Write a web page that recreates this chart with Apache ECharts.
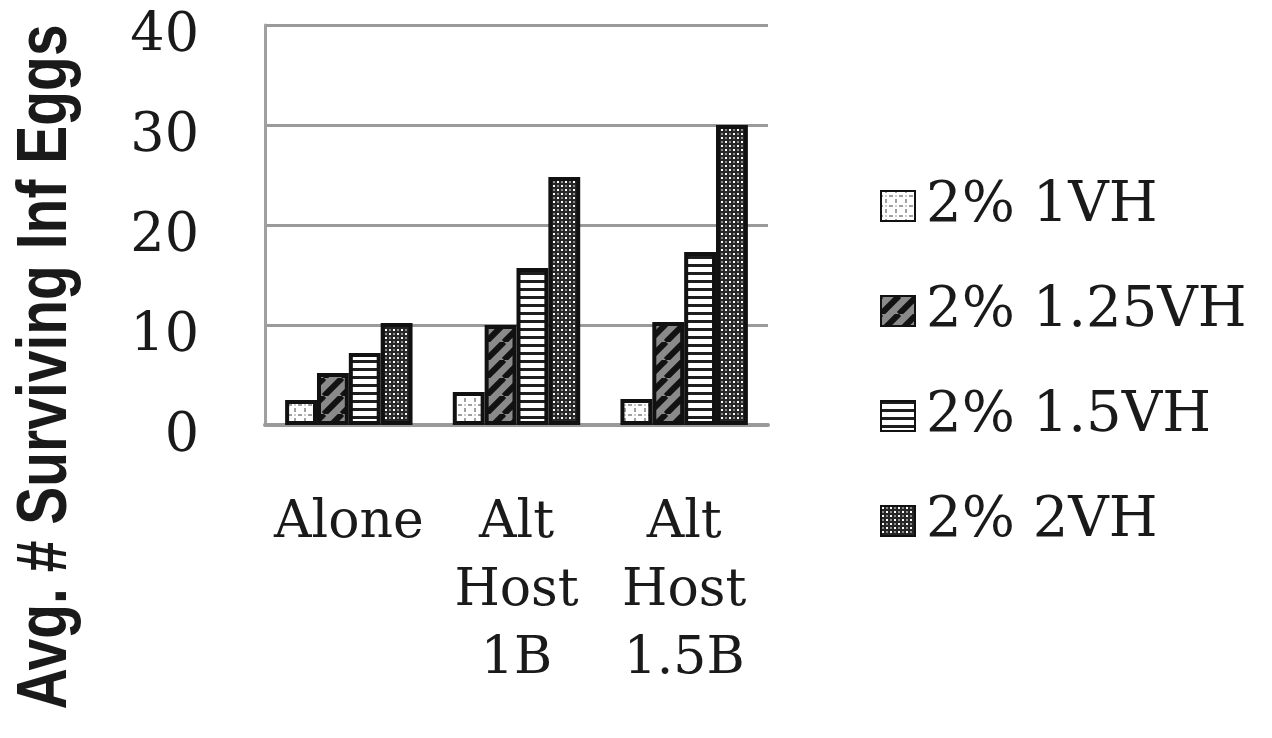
<!DOCTYPE html>
<html>
<head>
<meta charset="utf-8">
<script src="https://cdn.jsdelivr.net/npm/echarts@6/dist/echarts.min.js"></script>
<style>
html,body{margin:0;padding:0;background:#fff;}
#chart{width:1272px;height:738px;}
</style>
</head>
<body>
<div id="chart"></div>
<script>
// ---- data ----
var categories = ['Alone', 'Alt Host 1B', 'Alt Host 1.5B'];
var seriesNames = ['2% 1VH', '2% 1.25VH', '2% 1.5VH', '2% 2VH'];
var vh1 = [2.5, 3.3, 2.6];
var vh125 = [5.2, 10.0, 10.3];
var vh15 = [7.2, 15.7, 17.3];
var vh2 = [10.2, 24.8, 30.0];
var yTicks = [0, 10, 20, 30, 40];
var yTitle = 'Avg. # Surviving Inf Eggs';

// ---- patterns ----
function makeCanvas(w, h, draw) {
  var c = document.createElement('canvas');
  c.width = w; c.height = h;
  draw(c.getContext('2d'), w, h);
  return c;
}
var pDots = makeCanvas(10, 10, function (ctx, w, h) {
  ctx.fillStyle = '#ffffff'; ctx.fillRect(0, 0, w, h);
  ctx.fillStyle = '#a0a0a0';
  ctx.fillRect(0, 4, 2, 2); ctx.fillRect(8, 4, 2, 2);
  ctx.fillRect(4, 0, 2, 2); ctx.fillRect(4, 8, 2, 2);
  ctx.fillStyle = '#cccccc';
  ctx.fillRect(4, 4, 2, 2);
});
var pDiag = makeCanvas(18, 18, function (ctx, w, h) {
  ctx.fillStyle = '#8a8a8a'; ctx.fillRect(0, 0, w, h);
  ctx.strokeStyle = '#121212'; ctx.lineWidth = 6;
  for (var k = -1; k <= 1; k++) {
    ctx.beginPath();
    ctx.moveTo(k * w, h); ctx.lineTo(k * w + w, 0);
    ctx.stroke();
  }
});
var pHoriz = makeCanvas(8, 8, function (ctx, w, h) {
  ctx.fillStyle = '#ffffff'; ctx.fillRect(0, 0, w, h);
  ctx.fillStyle = '#1e1e1e'; ctx.fillRect(0, 0, w, 3);
});
var pCheck = makeCanvas(8, 8, function (ctx, w, h) {
  ctx.fillStyle = '#262626'; ctx.fillRect(0, 0, w, h);
  ctx.fillStyle = '#ffffff';
  ctx.fillRect(1, 1, 2, 2); ctx.fillRect(5, 5, 2, 2);
  ctx.fillStyle = '#8a8a8a';
  ctx.fillRect(5, 1, 2, 2); ctx.fillRect(1, 5, 2, 2);
});
var patterns = [pDots, pDiag, pHoriz, pCheck];
var values = [vh1, vh125, vh15, vh2];

var serifFont = '"DejaVu Serif", "Liberation Serif", serif';

var chart = echarts.init(document.getElementById('chart'), null, { renderer: 'canvas' });
var option = {
  animation: false,
  backgroundColor: '#ffffff',
  grid: { left: 265, right: 504, top: 25, bottom: 313, containLabel: false },
  legend: {
    orient: 'vertical',
    left: 875,
    top: 173,
    icon: 'rect',
    itemWidth: 34,
    itemHeight: 30,
    itemGap: 49,
    data: seriesNames,
    textStyle: {
      fontFamily: serifFont, fontSize: 56, lineHeight: 56, color: '#1a1a1a',
      padding: [0, 0, 0, 6]
    }
  },
  xAxis: {
    type: 'category',
    data: categories,
    axisLine: { show: true, lineStyle: { color: '#9a9a9a', width: 4 } },
    axisTick: { show: false },
    axisLabel: {
      fontFamily: serifFont, fontSize: 52, lineHeight: 68, color: '#1a1a1a',
      margin: 64, interval: 0,
      formatter: function (v) { return v.split(' ').join('\n'); }
    }
  },
  yAxis: {
    type: 'value',
    min: yTicks[0],
    max: yTicks[yTicks.length - 1],
    interval: yTicks[1] - yTicks[0],
    axisLine: { show: true, lineStyle: { color: '#a0a0a0', width: 3 } },
    axisTick: { show: false },
    splitLine: { show: true, lineStyle: { color: '#9a9a9a', width: 3 } },
    axisLabel: {
      fontFamily: serifFont, fontSize: 54, color: '#1a1a1a', margin: 66,
      verticalAlign: 'top', lineHeight: 24
    }
  },
  graphic: [{
    type: 'text',
    x: 46,
    y: 367,
    rotation: Math.PI / 2,
    scaleY: 1.25,
    style: {
      text: yTitle,
      fontFamily: '"Liberation Sans", Arial, sans-serif',
      fontWeight: 'bold',
      fontSize: 57,
      fill: '#1a1a1a',
      align: 'center',
      verticalAlign: 'middle'
    }
  }],
  series: seriesNames.map(function (name, i) {
    return {
      name: name,
      type: 'bar',
      data: values[i],
      barGap: '0%',
      barCategoryGap: '24%',
      itemStyle: {
        color: { image: patterns[i], repeat: 'repeat' },
        borderColor: '#111111',
        borderWidth: 4
      }
    };
  })
};
chart.setOption(option);
</script>
</body>
</html>
